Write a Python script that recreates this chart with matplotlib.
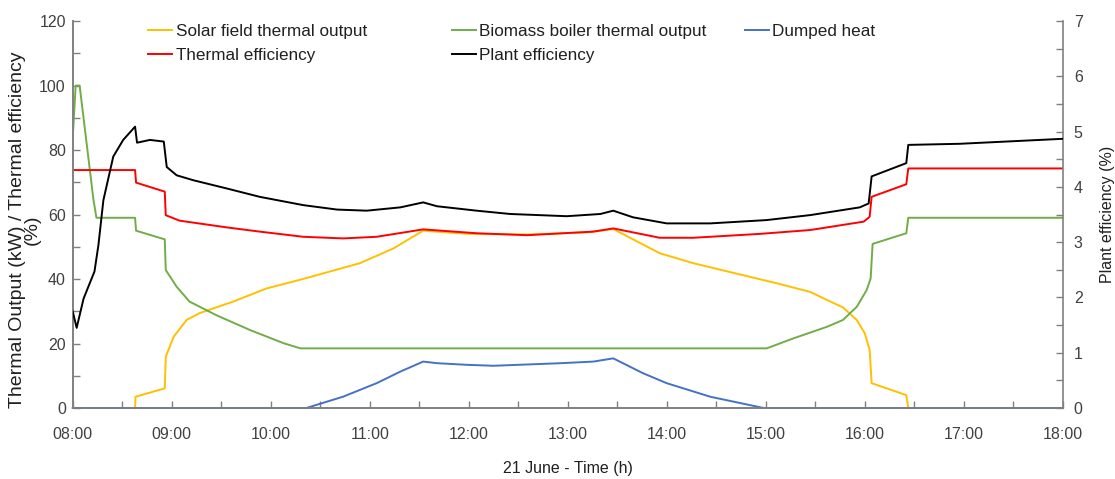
import matplotlib
matplotlib.use("Agg")
import matplotlib.pyplot as plt
from matplotlib.ticker import MultipleLocator, FuncFormatter
from matplotlib.lines import Line2D

plt.rcParams['font.family'] = ['Liberation Sans', 'DejaVu Sans']

# ---------------------------------------------------------------------------
# Data (time in decimal hours, 21 June)
# ---------------------------------------------------------------------------

# Solar field thermal output (kW)
solar_t = [8.63, 8.635, 8.93, 8.94, 9.02, 9.15, 9.28, 9.62, 9.96, 10.30, 10.90,
           11.24, 11.54, 12.0, 12.6, 13.2, 13.46, 13.93, 14.27, 14.77, 15.11,
           15.45, 15.62, 15.78, 15.92, 16.00, 16.05, 16.07, 16.42, 16.44]
solar_kw = [0.0, 3.5, 6.1, 15.9, 22.1, 27.3, 29.4, 33.0, 37.1, 39.8, 44.9,
            49.5, 55.0, 54.0, 53.8, 54.5, 55.5, 48.0, 44.9, 41.2, 38.7,
            36.0, 33.5, 31.2, 27.3, 23.2, 18.0, 7.7, 4.0, 0.0]

# Biomass boiler thermal output (kW)
biomass_t = [8.00, 8.03, 8.07, 8.21, 8.24, 8.63, 8.64, 8.93, 8.94, 9.05, 9.18,
             9.45, 9.79, 10.13, 10.30, 15.01, 15.28, 15.62, 15.78, 15.92,
             16.02, 16.06, 16.08, 16.42, 16.44, 18.00]
biomass_kw = [83.7, 100.0, 100.0, 64.5, 59.0, 59.0, 55.0, 52.3, 42.8, 37.6, 33.0,
              28.8, 24.2, 20.1, 18.5, 18.5, 21.6, 25.2, 27.3, 31.4,
              36.6, 40.2, 50.9, 54.2, 59.0, 59.0]

# Dumped heat (kW)
dumped_t = [8.00, 10.36, 10.73, 11.07, 11.31, 11.54, 11.68, 11.98, 12.25, 12.93,
            13.26, 13.46, 13.76, 14.00, 14.44, 14.98, 18.00]
dumped_kw = [0.0, 0.0, 3.5, 7.7, 11.3, 14.4, 13.9, 13.4, 13.1, 13.9,
             14.4, 15.4, 10.8, 7.7, 3.5, 0.0, 0.0]

# Thermal efficiency (%)
thermal_t = [8.00, 8.63, 8.64, 8.93, 8.94, 9.08, 9.56, 9.89, 10.33, 10.73, 11.07,
             11.54, 12.08, 12.59, 13.26, 13.46, 13.93, 14.27, 14.94, 15.45,
             15.99, 16.05, 16.07, 16.42, 16.44, 18.00]
thermal_eff = [73.8, 73.8, 69.9, 67.1, 59.8, 58.1, 56.0, 54.7, 53.1, 52.6, 53.1,
               55.4, 54.2, 53.6, 54.7, 55.7, 52.8, 52.8, 54.0, 55.2,
               57.8, 59.3, 65.5, 69.4, 74.3, 74.3]

# Plant efficiency (%), right axis
plant_t = [8.00, 8.04, 8.11, 8.22, 8.26, 8.31, 8.41, 8.51, 8.63, 8.65, 8.78,
           8.92, 8.95, 9.05, 9.22, 9.56, 9.89, 10.33, 10.67, 10.97, 11.31,
           11.54, 11.68, 12.08, 12.42, 12.99, 13.33, 13.46, 13.66, 14.00,
           14.44, 15.01, 15.45, 15.95, 16.04, 16.07, 16.42, 16.44, 16.96, 18.00]
plant_eff = [1.75, 1.45, 1.98, 2.47, 2.95, 3.76, 4.55, 4.85, 5.09, 4.80, 4.85,
             4.82, 4.36, 4.21, 4.12, 3.97, 3.82, 3.67, 3.59, 3.57, 3.63,
             3.72, 3.65, 3.57, 3.51, 3.47, 3.51, 3.57, 3.45, 3.34,
             3.34, 3.40, 3.49, 3.63, 3.70, 4.19, 4.43, 4.76, 4.78, 4.87]

# ---------------------------------------------------------------------------
# Figure
# ---------------------------------------------------------------------------

C_SOLAR = '#FFC000'
C_BIOMASS = '#70AD47'
C_DUMPED = '#4472C4'
C_THERMAL = '#FF0000'
C_PLANT = '#000000'
AXIS_GRAY = '#808080'
TEXT_GRAY = '#404040'

fig = plt.figure(figsize=(11.15, 4.79), dpi=100)
ax = fig.add_axes([0.0652, 0.1482, 0.8879, 0.8078])
ax2 = ax.twinx()

lw = 1.4
ax.plot(solar_t, solar_kw, color=C_SOLAR, lw=lw, zorder=3)
ax.plot(biomass_t, biomass_kw, color=C_BIOMASS, lw=lw, zorder=3)
ax.plot(thermal_t, thermal_eff, color=C_THERMAL, lw=lw, zorder=4)
ax.plot(dumped_t, dumped_kw, color=C_DUMPED, lw=lw, zorder=5, clip_on=False)
ax2.plot(plant_t, plant_eff, color=C_PLANT, lw=lw, zorder=3)

ax.set_xlim(8, 18)
ax.set_ylim(0, 120)
ax2.set_ylim(0, 7)

ax.xaxis.set_major_locator(MultipleLocator(1))
ax.xaxis.set_minor_locator(MultipleLocator(0.5))
ax.xaxis.set_major_formatter(FuncFormatter(lambda v, p: f"{int(round(v)):02d}:00"))
ax.yaxis.set_major_locator(MultipleLocator(20))
ax.yaxis.set_minor_locator(MultipleLocator(10))
ax2.yaxis.set_major_locator(MultipleLocator(1))
ax2.yaxis.set_minor_locator(MultipleLocator(0.5))

for a in (ax, ax2):
    a.spines['top'].set_visible(False)
    for s in ('left', 'right', 'bottom'):
        a.spines[s].set_color(AXIS_GRAY)
        a.spines[s].set_linewidth(1.2)
    a.tick_params(which='both', direction='in', color=AXIS_GRAY,
                  labelcolor=TEXT_GRAY, labelsize=11.5, width=1, length=5)
ax.tick_params(axis='x', pad=14)
ax.tick_params(axis='y', pad=5)
ax2.tick_params(axis='y', pad=8)
ax.spines['right'].set_visible(False)

ax.set_xlabel('21 June - Time (h)', fontsize=11.5, labelpad=13, color='#202020')
ax.set_ylabel('Thermal Output (kW) / Thermal efficiency\n(%)', fontsize=14,
              color='#202020', linespacing=0.85)
ax.yaxis.set_label_coords(-0.032, 0.46)
ax2.set_ylabel('Plant efficiency (%)', fontsize=11.5, color='#202020')
ax2.yaxis.set_label_coords(1.038, 0.5)

# Legend laid out as three columns over the plot area
def legend_col(entries, x):
    handles = [Line2D([], [], color=c, lw=1.4) for _, c in entries]
    labels = [n for n, _ in entries]
    leg = fig.legend(handles, labels, loc='upper left', bbox_to_anchor=(x, 0.965),
                     frameon=False, fontsize=12.3, handlelength=1.4,
                     handletextpad=0.2, labelspacing=0.55, borderaxespad=0)
    for t in leg.get_texts():
        t.set_color('#202020')
    return leg

legend_col([('Solar field thermal output', C_SOLAR),
            ('Thermal efficiency', C_THERMAL)], 0.127)
legend_col([('Biomass boiler thermal output', C_BIOMASS),
            ('Plant efficiency', C_PLANT)], 0.399)
legend_col([('Dumped heat', C_DUMPED)], 0.662)

fig.savefig('out.png', dpi=100)
